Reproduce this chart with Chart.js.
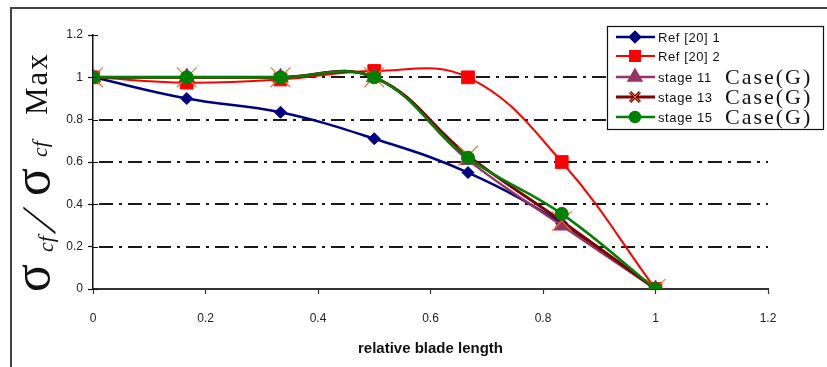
<!DOCTYPE html>
<html>
<head>
<meta charset="utf-8">
<script src="https://cdn.jsdelivr.net/npm/chart.js"></script>
<style>
  html, body { margin: 0; padding: 0; background: #fff; }
  canvas { display: block; }
</style>
</head>
<body>
<canvas id="myChart" width="827" height="367"></canvas>
<script>
// blade positions (fraction of blade length) and stress ratios per curve
const bladePos = [0, 1 / 6, 2 / 6, 0.5, 4 / 6, 5 / 6, 1];
const ref20a  = [1, 0.90, 0.835, 0.71, 0.55, 0.31, 0];
const ref20b  = [1, 0.975, 0.99, 1.03, 1.0, 0.60, 0];
const stage11 = [1, 1, 1, 1, 0.61, 0.30, 0];
const stage13 = [1, 1, 1, 1, 0.63, 0.32, 0];
const stage15 = [1, 1, 1, 1, 0.62, 0.355, 0];

const seriesNames = ['Ref [20] 1', 'Ref [20] 2', 'stage 11', 'stage 13', 'stage 15'];
const seriesSuffix = ['', '', 'Case(G)', 'Case(G)', 'Case(G)'];
const xTicks = [0, 0.2, 0.4, 0.6, 0.8, 1, 1.2];
const yTicks = [0, 0.2, 0.4, 0.6, 0.8, 1, 1.2];

const toPoints = vals => vals.map((v, i) => ({ x: bladePos[i], y: v }));
const fmt = v => String(+v.toFixed(1));

const styles = [
  { color: '#000080', pointStyle: 'rectRot', radius: 6, legendR: 5, width: 2.5, fill: '#000080', edge: '#000080', order: 4 },
  { color: '#ff0000', pointStyle: 'rect', radius: 9, legendR: 7, width: 2, fill: '#ff0000', edge: '#ff0000', order: 3 },
  { color: '#993366', pointStyle: 'triangle', radius: 9, legendR: 7, width: 2.5, fill: '#993366', edge: '#993366', order: 2 },
  { color: '#800000', pointStyle: 'crossRot', radius: 14, legendR: 7, width: 3, fill: '#e07b39', edge: '#e07b39', order: 1 },
  { color: '#008000', pointStyle: 'circle', radius: 6.5, legendR: 5, width: 2.5, fill: '#008000', edge: '#008000', order: 0 }
];
const allValues = [ref20a, ref20b, stage11, stage13, stage15];

const datasets = allValues.map((vals, i) => ({
  label: seriesNames[i],
  data: toPoints(vals),
  borderColor: styles[i].color,
  borderWidth: styles[i].width,
  backgroundColor: styles[i].fill,
  pointStyle: styles[i].pointStyle,
  pointRadius: styles[i].radius,
  pointBackgroundColor: styles[i].fill,
  pointBorderColor: styles[i].edge,
  pointBorderWidth: i === 3 ? 1.2 : 1,
  tension: 0.4,
  order: styles[i].order
}));

// frame, dashed grid, inner tick halves, y title and legend box
const decorations = {
  id: 'decorations',
  beforeDatasetsDraw(chart) {
    const ctx = chart.ctx;
    const y = chart.scales.y;
    const area = chart.chartArea;
    ctx.save();
    ctx.strokeStyle = '#1a1a1a';
    ctx.lineWidth = 1.8;
    ctx.setLineDash([14, 6, 3, 6]);
    yTicks.filter(v => v > 0 && v < 1.1).forEach(v => {
      const py = Math.round(y.getPixelForValue(v));
      ctx.beginPath();
      ctx.moveTo(area.left + 6, py);
      ctx.lineTo(area.right, py);
      ctx.stroke();
    });
    ctx.restore();
  },
  afterDraw(chart) {
    const ctx = chart.ctx;
    const y = chart.scales.y;
    const x = chart.scales.x;

    // outer frame
    ctx.save();
    ctx.strokeStyle = '#444';
    ctx.lineWidth = 2;
    ctx.beginPath();
    ctx.moveTo(11, 367);
    ctx.lineTo(11, 8);
    ctx.lineTo(827, 8);
    ctx.stroke();

    // inner half of the cross ticks on the value axis
    ctx.strokeStyle = '#111';
    ctx.lineWidth = 1.2;
    ctx.beginPath();
    yTicks.forEach(v => {
      const py = Math.round(y.getPixelForValue(v)) + 0.5;
      ctx.moveTo(x.left, py);
      ctx.lineTo(x.left + 5, py);
    });
    ctx.stroke();

    // y axis title: sigma_cf / sigma_cf Max
    ctx.translate(49, 292);
    ctx.rotate(-Math.PI / 2);
    ctx.fillStyle = '#111';
    ctx.textBaseline = 'alphabetic';
    ctx.textAlign = 'left';
    ctx.font = '52px "Liberation Serif"';
    ctx.fillText('σ', 0, 0);
    ctx.font = 'italic 22px "Liberation Serif"';
    ctx.fillText('cf', 40, 4);
    ctx.save();
    ctx.translate(58, 6);
    ctx.transform(1, 0, -0.45, 1, 0, 0);
    ctx.font = '48px "Liberation Serif"';
    ctx.fillText('/', 0, 0);
    ctx.restore();
    ctx.font = '52px "Liberation Serif"';
    ctx.fillText('σ', 96, 0);
    ctx.font = 'italic 22px "Liberation Serif"';
    ctx.fillText('cf', 135, -2);
    ctx.font = '31px "Liberation Serif"';
    ctx.letterSpacing = '2px';
    ctx.fillText('Max', 177, -2);
    ctx.restore();

    // legend
    ctx.save();
    ctx.fillStyle = '#fff';
    ctx.fillRect(607, 26, 217, 104);
    ctx.strokeStyle = '#111';
    ctx.lineWidth = 1.2;
    ctx.strokeRect(607.5, 26.5, 216, 103);
    const rows = [37, 56, 77, 97, 117];
    seriesNames.forEach((name, i) => {
      const ry = rows[i];
      const st = styles[i];
      ctx.strokeStyle = st.color;
      ctx.lineWidth = st.width;
      ctx.beginPath();
      ctx.moveTo(616, ry);
      ctx.lineTo(655, ry);
      ctx.stroke();
      Chart.helpers.drawPoint(ctx, {
        pointStyle: st.pointStyle,
        radius: st.legendR,
        rotation: 0,
        borderWidth: 1
      }, 635, ry);
      ctx.fillStyle = st.fill;
      ctx.strokeStyle = st.edge;
      ctx.lineWidth = 1;
      ctx.fill();
      ctx.stroke();
      ctx.fillStyle = '#111';
      ctx.textBaseline = 'middle';
      ctx.font = '13px "Liberation Sans"';
      ctx.letterSpacing = '0.6px';
      ctx.fillText(name, 658, ry + 1);
      if (seriesSuffix[i]) {
        ctx.font = '22px "Liberation Serif"';
        ctx.letterSpacing = '2px';
        ctx.textBaseline = 'alphabetic';
        ctx.fillText(seriesSuffix[i], 725, ry + 7);
      }
    });
    ctx.restore();
  }
};

const ctx = document.getElementById('myChart').getContext('2d');
new Chart(ctx, {
  type: 'line',
  data: { datasets },
  plugins: [decorations],
  options: {
    responsive: false,
    animation: false,
    events: [],
    layout: { padding: { left: 0, top: 35, right: 59, bottom: 0 } },
    plugins: {
      legend: { display: false },
      tooltip: { enabled: false }
    },
    scales: {
      x: {
        type: 'linear',
        min: 0,
        max: 1.2,
        afterBuildTicks: s => { s.ticks = xTicks.map(v => ({ value: v })); },
        afterFit: s => { s.height = 78; },
        ticks: {
          color: '#222',
          font: { family: 'Liberation Sans', size: 12 },
          padding: 17,
          maxRotation: 0,
          callback: fmt
        },
        grid: { drawOnChartArea: false, tickLength: 5, tickColor: '#333', tickWidth: 1.2 },
        border: { color: '#333', width: 2 },
        title: {
          display: true,
          text: 'relative blade length',
          color: '#111',
          font: { family: 'Liberation Sans', size: 15, weight: 'bold' },
          padding: { top: 0, bottom: 9 }
        }
      },
      y: {
        min: 0,
        max: 1.2,
        afterBuildTicks: s => { s.ticks = yTicks.map(v => ({ value: v })); },
        afterFit: s => { s.width = 93; },
        ticks: {
          color: '#222',
          font: { family: 'Liberation Sans', size: 12 },
          padding: 5,
          callback: fmt
        },
        grid: {
          drawOnChartArea: false,
          tickColor: '#111',
          tickWidth: 1.2,
          tickLength: 5
        },
        border: { color: '#111', width: 1.5 }
      }
    }
  }
});
</script>
</body>
</html>
